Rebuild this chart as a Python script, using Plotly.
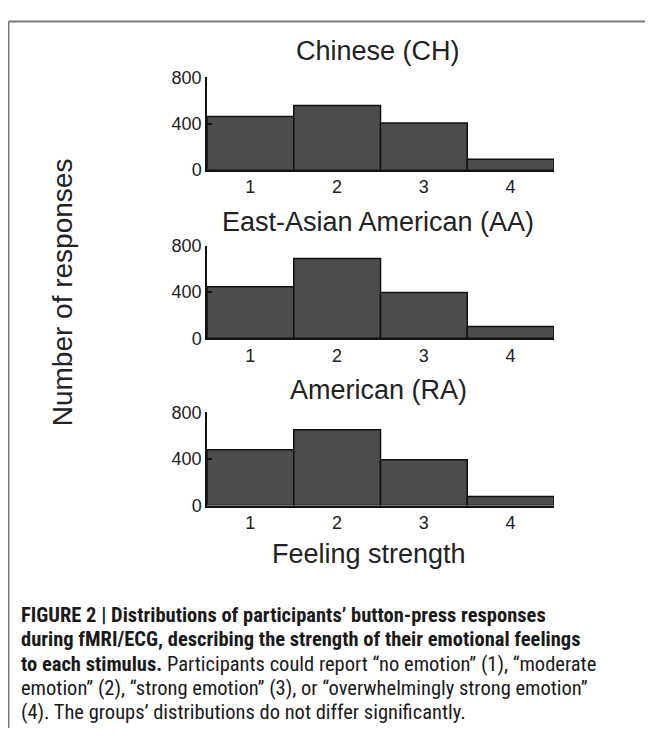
import plotly.graph_objects as go

PAGE_W, PAGE_H = 653, 746
OFF = 8  # default page body margin
W, H = PAGE_W - 2 * OFF, PAGE_H - 2 * OFF  # figure fits the window exactly

categories = [1, 2, 3, 4]
tick_labels = ["1", "2", "3", "4"]
group_titles = ["Chinese (CH)", "East-Asian American (AA)", "American (RA)"]
ch_counts = [460, 556, 404, 90]
aa_counts = [446, 690, 396, 101]
ra_counts = [478, 650, 392, 78]
y_ticks = [0, 400, 800]

caption_lines = [
    "<b>FIGURE 2 | Distributions of participants’ button-press responses</b>",
    "<b>during fMRI/ECG, describing the strength of their emotional feelings</b>",
    "<b>to each stimulus.</b> Participants could report “no emotion” (1), “moderate",
    "emotion” (2), “strong emotion” (3), or “overwhelmingly strong emotion”",
    "(4). The groups’ distributions do not differ significantly.",
]

def px_x(x):
    return (x - OFF) / W

def px_y(y):
    return 1 - (y - OFF) / H

# panel pixel positions (in the page): (y of 800, y of 0)
panels = [(69, 164), (242.3, 337.3), (413.3, 509.3)]
series = [ch_counts, aa_counts, ra_counts]
title_y = [42, 218, 390]
x_left, x_right = 207, 554

FONT = "Liberation Sans"
TXT = "#222222"

fig = go.Figure()
layout = dict(
    width=W, height=H,
    margin=dict(l=0, r=0, t=0, b=0),
    paper_bgcolor="white", plot_bgcolor="white",
    showlegend=False,
    font=dict(family=FONT, color=TXT, size=18),
)

annotations = []
for i, (vals, (ytop, ybot)) in enumerate(zip(series, panels)):
    n = "" if i == 0 else str(i + 1)
    fig.add_trace(go.Bar(
        x=categories, y=vals, width=1,
        marker=dict(color="#4d4d4d", line=dict(color="#111111", width=1.5)),
        xaxis="x" + n, yaxis="y" + n,
    ))
    layout["xaxis" + n] = dict(
        domain=[px_x(x_left), px_x(x_right)],
        anchor="y" + n,
        range=[0.5, 4.5],
        tickvals=categories, ticktext=tick_labels,
        showline=True, linecolor="#111111", linewidth=1.5,
        ticks="", showgrid=False, zeroline=False,
        tickfont=dict(size=18, color=TXT, family=FONT),
        fixedrange=True,
    )
    layout["yaxis" + n] = dict(
        domain=[px_y(ybot), px_y(ytop)],
        anchor="x" + n,
        range=[0, 800],
        tickvals=y_ticks,
        showline=True, linecolor="#111111", linewidth=1.5,
        ticks="inside", ticklen=5, tickcolor="#111111", tickwidth=1.5,
        showgrid=False, zeroline=False,
        tickfont=dict(size=18, color=TXT, family=FONT),
        fixedrange=True,
    )
    annotations.append(dict(
        text=group_titles[i], xref="paper", yref="paper",
        x=px_x(378), y=px_y(title_y[i]), xanchor="center", yanchor="middle",
        showarrow=False, font=dict(size=27, color=TXT, family=FONT),
    ))

annotations.append(dict(
    text="Number of responses", xref="paper", yref="paper",
    x=px_x(62), y=px_y(290), xanchor="center", yanchor="middle",
    textangle=-90, showarrow=False, font=dict(size=28, color=TXT, family=FONT),
))
annotations.append(dict(
    text="Feeling strength", xref="paper", yref="paper",
    x=px_x(369), y=px_y(559), xanchor="center", yanchor="middle",
    showarrow=False, font=dict(size=27, color=TXT, family=FONT),
))

CAP_FONT = "Roboto Condensed"
for k, line in enumerate(caption_lines):
    annotations.append(dict(
        text=line, xref="paper", yref="paper",
        x=px_x(19), y=px_y(622 + 25 * k), xanchor="left", yanchor="middle",
        showarrow=False, font=dict(size=20.5, color="#1a1a1a", family=CAP_FONT),
    ))

layout["annotations"] = annotations
layout["shapes"] = [
    dict(type="line", xref="paper", yref="paper",
         x0=px_x(8.5), x1=1, y0=px_y(11.5), y1=px_y(11.5),
         line=dict(color="#7a7a7a", width=2)),
    dict(type="line", xref="paper", yref="paper",
         x0=px_x(8.5), x1=px_x(8.5), y0=px_y(11.5), y1=0,
         line=dict(color="#7a7a7a", width=2)),
]

fig.update_layout(**layout)
fig.write_html("out.html")
